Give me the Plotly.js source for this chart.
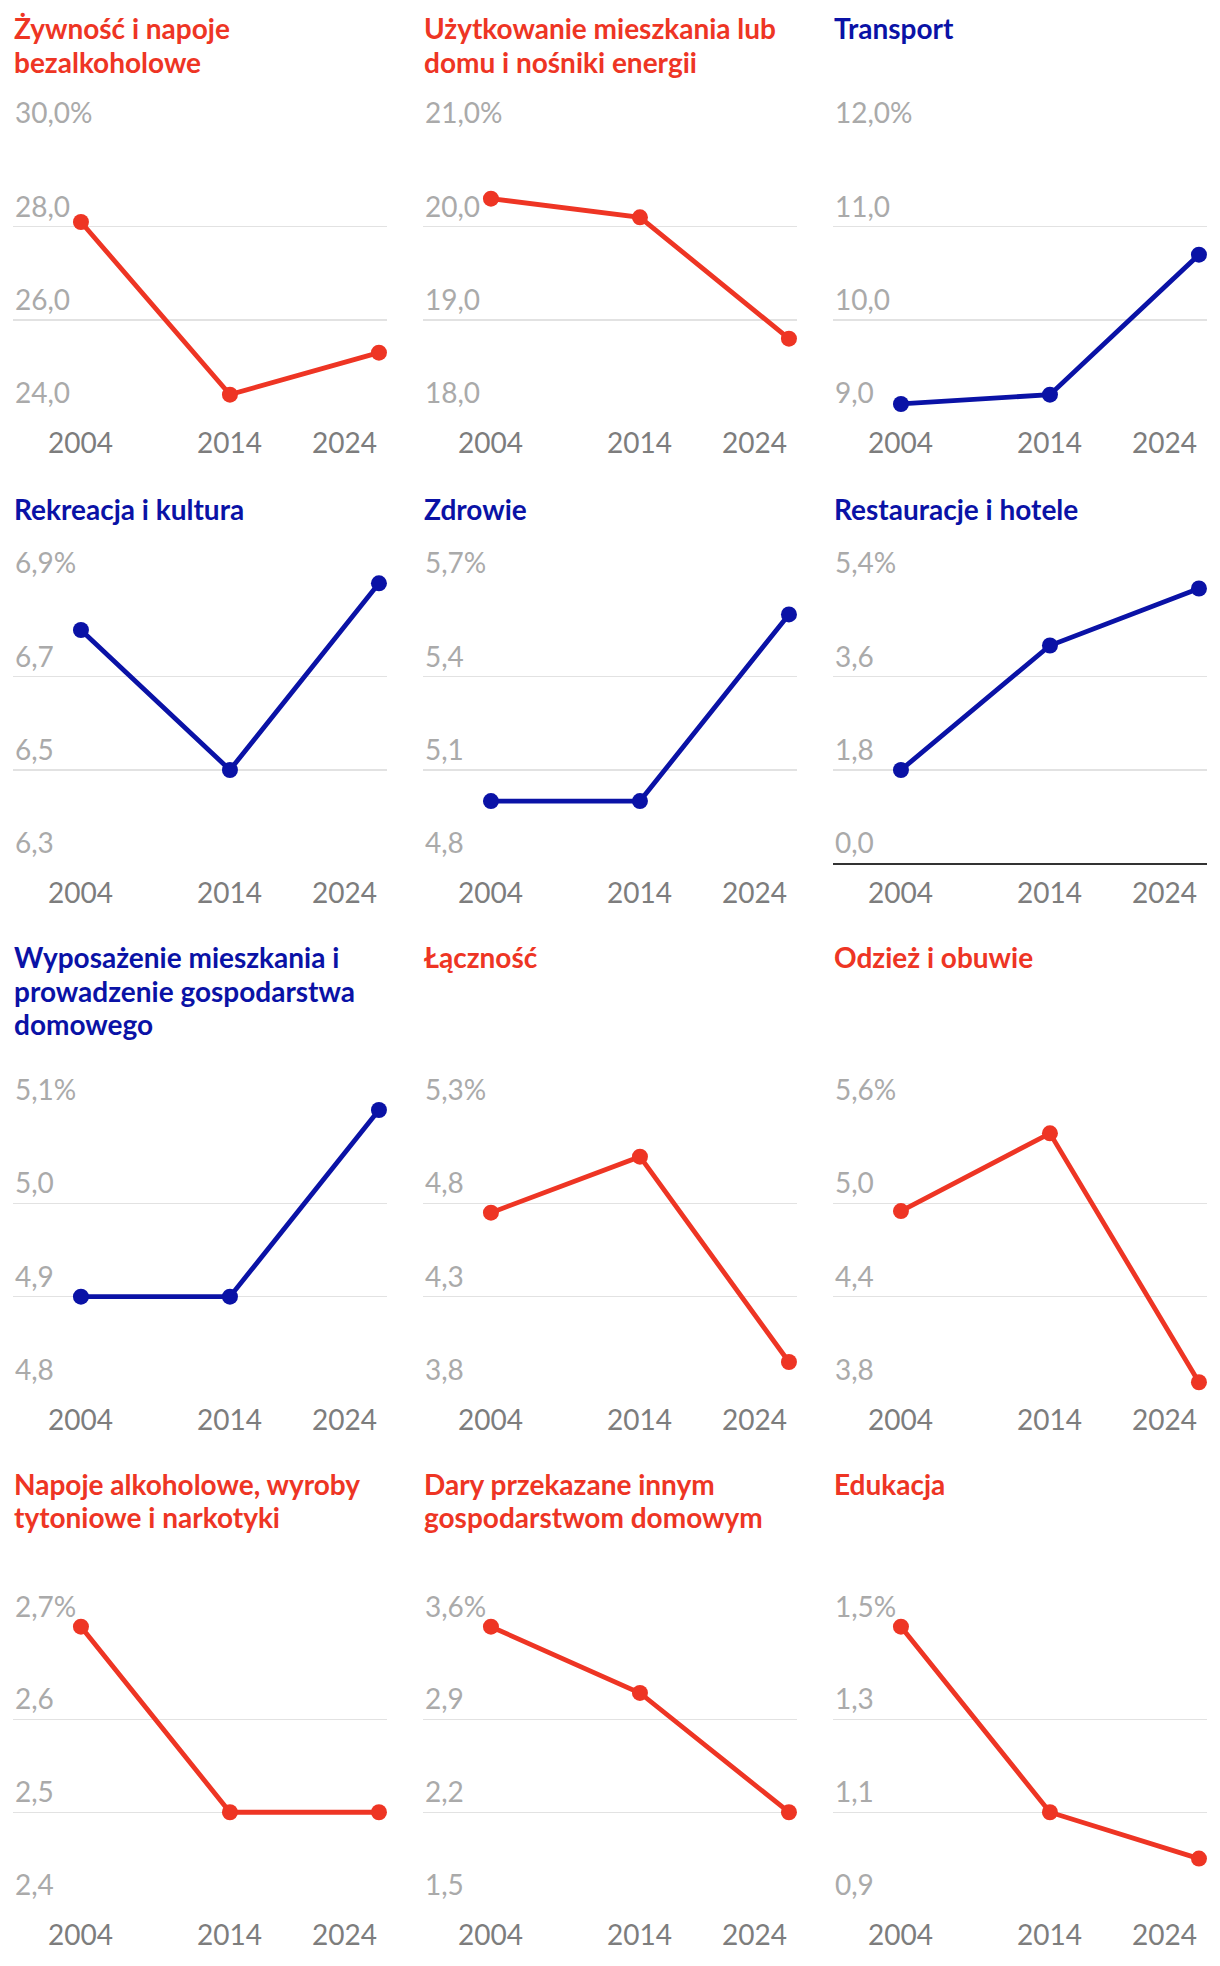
<!DOCTYPE html>
<html>
<head>
<meta charset="utf-8">
<script src="https://cdn.plot.ly/plotly-3.0.1.min.js"></script>
<style>
html,body{margin:0;padding:0;background:#fff;}
#chart{width:1220px;height:1966px;}
</style>
</head>
<body>
<div id="chart"></div>
<script>
// ---------------- DATA ----------------
const years = [2004, 2014, 2024];
const yearLabels = ["2004", "2014", "2024"];

const titles = [
  "Żywność i napoje<br>bezalkoholowe",
  "Użytkowanie mieszkania lub<br>domu i nośniki energii",
  "Transport",
  "Rekreacja i kultura",
  "Zdrowie",
  "Restauracje i hotele",
  "Wyposażenie mieszkania i<br>prowadzenie gospodarstwa<br>domowego",
  "Łączność",
  "Odzież i obuwie",
  "Napoje alkoholowe, wyroby<br>tytoniowe i narkotyki",
  "Dary przekazane innym<br>gospodarstwom domowym",
  "Edukacja"
];

const zywnosc      = [28.1, 24.4, 25.3];
const uzytkowanie  = [20.3, 20.1, 18.8];
const transport    = [9.1, 9.2, 10.7];
const rekreacja    = [6.8, 6.5, 6.9];
const zdrowie      = [5.0, 5.0, 5.6];
const restauracje  = [1.8, 4.2, 5.3];
const wyposazenie  = [4.9, 4.9, 5.1];
const lacznosc     = [4.7, 5.0, 3.9];
const odziez       = [4.9, 5.4, 3.8];
const napoje       = [2.7, 2.5, 2.5];
const dary         = [3.6, 3.1, 2.2];
const edukacja     = [1.5, 1.1, 1.0];

const series = [zywnosc, uzytkowanie, transport, rekreacja, zdrowie, restauracje,
                wyposazenie, lacznosc, odziez, napoje, dary, edukacja];

const tickVals = [
  [24, 26, 28, 30],
  [18, 19, 20, 21],
  [9, 10, 11, 12],
  [6.3, 6.5, 6.7, 6.9],
  [4.8, 5.1, 5.4, 5.7],
  [0, 1.8, 3.6, 5.4],
  [4.8, 4.9, 5.0, 5.1],
  [3.75, 4.25, 4.75, 5.25],
  [3.75, 4.35, 4.95, 5.55],
  [2.4, 2.5, 2.6, 2.7],
  [1.5, 2.2, 2.9, 3.6],
  [0.9, 1.1, 1.3, 1.5]
];
const tickLabels = [
  ["24,0", "26,0", "28,0", "30,0%"],
  ["18,0", "19,0", "20,0", "21,0%"],
  ["9,0", "10,0", "11,0", "12,0%"],
  ["6,3", "6,5", "6,7", "6,9%"],
  ["4,8", "5,1", "5,4", "5,7%"],
  ["0,0", "1,8", "3,6", "5,4%"],
  ["4,8", "4,9", "5,0", "5,1%"],
  ["3,8", "4,3", "4,8", "5,3%"],
  ["3,8", "4,4", "5,0", "5,6%"],
  ["2,4", "2,5", "2,6", "2,7%"],
  ["1,5", "2,2", "2,9", "3,6%"],
  ["0,9", "1,1", "1,3", "1,5%"]
];

// ---------------- STYLE ----------------
const RED = "#ee3524", BLUE = "#0a12a6";
const panelColor = [RED, RED, BLUE, BLUE, BLUE, BLUE, BLUE, RED, RED, RED, RED, RED];

const W = 1220, H = 1966;
const colLeft = [13, 423, 833], colWidth = 374;
const rowTop = [133.3, 583.3, 1110, 1626.7];
const rowBottom = [413.3, 863.3, 1390, 1905];
const titleBaseline = [37.7, 518.3, 966.7, 1493.3];
const TITLE_FS = 28, TITLE_LINE = 33.6, TICK_FS = 28;

const layout = {
  width: W, height: H,
  margin: {l: 0, r: 0, t: 0, b: 0},
  paper_bgcolor: "#fff", plot_bgcolor: "#fff",
  showlegend: false,
  font: {family: "Lato, 'Open Sans', sans-serif"},
  annotations: []
};
const data = [];

for (let i = 0; i < 12; i++) {
  const k = i + 1;
  const r = Math.floor(i / 3), c = i % 3;
  const xa = "xaxis" + (k === 1 ? "" : k), ya = "yaxis" + (k === 1 ? "" : k);
  const xr = "x" + (k === 1 ? "" : k), yr = "y" + (k === 1 ? "" : k);
  const tv = tickVals[i];

  layout[xa] = {
    domain: [colLeft[c] / W, (colLeft[c] + colWidth) / W],
    range: [1999.44, 2024.54],
    anchor: yr,
    showgrid: false, zeroline: false, showticklabels: false, ticks: "",
    showline: i === 5, linecolor: "#333", linewidth: 2,
    fixedrange: true
  };
  layout[ya] = {
    domain: [1 - rowBottom[r] / H, 1 - rowTop[r] / H],
    range: [tv[0], tv[tv.length - 1]],
    anchor: xr,
    tickmode: "array", tickvals: tv, showticklabels: false, ticks: "",
    showgrid: true, gridcolor: "#e2e2e2", gridwidth: 1.4,
    zeroline: false, showline: false, fixedrange: true
  };

  data.push({
    type: "scatter", mode: "lines+markers",
    x: years, y: series[i], xaxis: xr, yaxis: yr,
    line: {color: panelColor[i], width: 4.8},
    marker: {color: panelColor[i], size: 16},
    cliponaxis: false, hoverinfo: "skip"
  });

  // title, one annotation per line
  titles[i].split("<br>").forEach((line, n) => {
    const base = titleBaseline[r] + n * TITLE_LINE;
    layout.annotations.push({
      xref: "paper", yref: "paper",
      x: (colLeft[c] - 1) / W,
      y: 1 - (base - 0.987 * TITLE_FS - 1) / H,
      xanchor: "left", yanchor: "top", align: "left",
      text: "<b>" + line + "</b>", showarrow: false,
      font: {family: "Lato", size: TITLE_FS, color: panelColor[i]}
    });
  });

  // y tick labels (above gridlines)
  tv.forEach((v, j) => {
    layout.annotations.push({
      xref: xr + " domain", yref: yr, x: 0, y: v,
      xanchor: "left", yanchor: "bottom", yshift: 2,
      text: tickLabels[i][j], showarrow: false,
      font: {family: "Lato", size: TICK_FS, color: "#aaaaaa"}
    });
  });

  // x labels
  years.forEach((yv, j) => {
    layout.annotations.push({
      xref: xr, yref: yr + " domain", x: yv, y: 0,
      xanchor: j === years.length - 1 ? "right" : "center",
      yanchor: "top", yshift: -9.7,
      text: yearLabels[j], showarrow: false,
      font: {family: "Lato", size: TICK_FS, color: "#7d7d7d"}
    });
  });
}

Plotly.newPlot("chart", data, layout, {staticPlot: true, displayModeBar: false});
</script>
</body>
</html>
